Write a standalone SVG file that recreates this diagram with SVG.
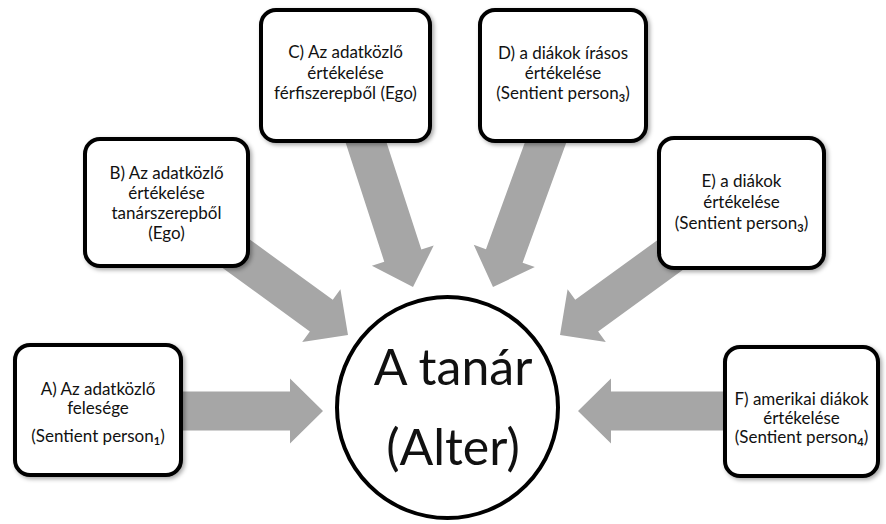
<svg xmlns="http://www.w3.org/2000/svg" xmlns:xlink="http://www.w3.org/1999/xlink" width="886" height="524" viewBox="0 0 886 524">
  <style>
    .box { fill: #ffffff; stroke: #000000; stroke-width: 4; filter: url(#shadow); }
    .lbl { font-family: Lato, "Open Sans", "Liberation Sans", sans-serif; font-size: 17px; fill: #111111; text-anchor: middle; }
    .big { font-family: Lato, "Open Sans", "Liberation Sans", sans-serif; font-size: 50px; fill: #111111; text-anchor: middle; }
    .sub { font-size: 11px; font-weight: bold; }
    .arrow { fill: #a6a6a6; }
  </style>
  <defs>
    <filter id="shadow" x="-10%" y="-10%" width="125%" height="125%">
      <feDropShadow dx="2" dy="2" stdDeviation="2" flood-color="#000000" flood-opacity="0.35"/>
    </filter>
    <path id="arr" d="M-180,-19.5 H-33 V-32.5 L0,0 L-33,32.5 V19.5 H-180 Z"/>
  </defs>
  <rect width="886" height="524" fill="#ffffff"/>

  <g id="connectors" class="arrow">
    <use xlink:href="#arr" transform="translate(323,411)"/>
    <use xlink:href="#arr" transform="translate(348,335) rotate(36)"/>
    <use xlink:href="#arr" transform="translate(413,287) rotate(72)"/>
    <use xlink:href="#arr" transform="translate(493,287) rotate(110)"/>
    <use xlink:href="#arr" transform="translate(560,335) rotate(144)"/>
    <use xlink:href="#arr" transform="translate(578,411) rotate(180)"/>
  </g>

  <g id="center">
    <circle cx="447.5" cy="407.5" r="110.5" fill="#ffffff" stroke="#000000" stroke-width="4"/>
    <text class="big" x="453" y="385">A tanár</text>
    <text class="big" x="453" y="465">(Alter)</text>
  </g>

  <g id="nodeA">
    <rect class="box" x="15" y="345" width="166" height="130" rx="15"/>
    <text class="lbl" x="98" y="395">A) Az adatközlő</text>
    <text class="lbl" x="98" y="414">felesége</text>
    <text class="lbl" x="98" y="442">(Sentient person<tspan class="sub" dy="3">1</tspan><tspan dy="-3">)</tspan></text>
  </g>

  <g id="nodeB">
    <rect class="box" x="85" y="139" width="163" height="127" rx="15"/>
    <text class="lbl" x="166.5" y="179">B) Az adatközlő</text>
    <text class="lbl" x="166.5" y="199">értékelése</text>
    <text class="lbl" x="166.5" y="219">tanárszerepből</text>
    <text class="lbl" x="166.5" y="239">(Ego)</text>
  </g>

  <g id="nodeC">
    <rect class="box" x="261" y="10" width="169" height="131" rx="15"/>
    <text class="lbl" x="345.5" y="58">C) Az adatközlő</text>
    <text class="lbl" x="345.5" y="79">értékelése</text>
    <text class="lbl" x="345.5" y="99">férfiszerepből (Ego)</text>
  </g>

  <g id="nodeD">
    <rect class="box" x="480" y="10" width="166" height="131" rx="15"/>
    <text class="lbl" x="563" y="59">D) a diákok írásos</text>
    <text class="lbl" x="563" y="79">értékelése</text>
    <text class="lbl" x="563" y="99">(Sentient person<tspan class="sub" dy="3">3</tspan><tspan dy="-3">)</tspan></text>
  </g>

  <g id="nodeE">
    <rect class="box" x="659" y="138" width="165" height="130" rx="15"/>
    <text class="lbl" x="741.5" y="187">E) a diákok</text>
    <text class="lbl" x="741.5" y="208">értékelése</text>
    <text class="lbl" x="741.5" y="229">(Sentient person<tspan class="sub" dy="3">3</tspan><tspan dy="-3">)</tspan></text>
  </g>

  <g id="nodeF">
    <rect class="box" x="725" y="347" width="153" height="129" rx="15"/>
    <text class="lbl" x="801.5" y="405">F) amerikai diákok</text>
    <text class="lbl" x="801.5" y="424">értékelése</text>
    <text class="lbl" x="801.5" y="443">(Sentient person<tspan class="sub" dy="3">4</tspan><tspan dy="-3">)</tspan></text>
  </g>
</svg>
